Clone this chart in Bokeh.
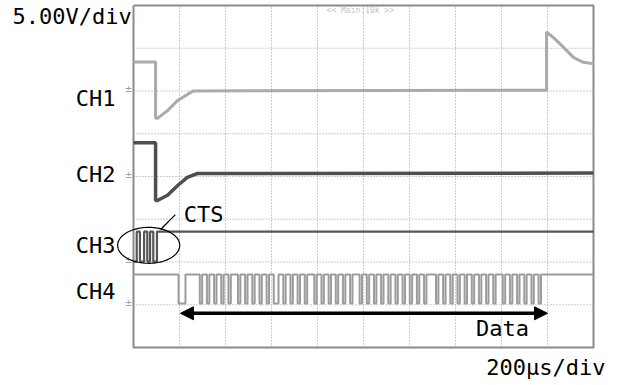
import numpy as np
from bokeh.plotting import figure
from bokeh.models import Range1d, Label, Arrow, NormalHead, PolyAnnotation
from bokeh.embed import file_html
from bokeh.resources import INLINE

# ---- data, in screen divisions (x: 0..10 div of 200us, y: 0..8 div of 5V) ----
x_divs = list(range(0, 11))
y_divs = list(range(0, 9))

ch1_t = [0, 0.48, 0.48, 0.52, 0.74, 0.96, 1.17, 1.30, 8.98, 8.98, 9.13, 9.35, 9.57, 9.78, 10.0]
ch1_v = [6.68, 6.68, 5.36, 5.36, 5.54, 5.78, 5.92, 6.00, 6.02, 7.38, 7.25, 7.02, 6.78, 6.67, 6.64]

ch2_t = [0, 0.48, 0.48, 0.52, 0.74, 0.96, 1.17, 1.39, 10.0]
ch2_v = [4.79, 4.79, 3.44, 3.44, 3.56, 3.79, 3.98, 4.07, 4.08]

ch3_low, ch3_high = 2.01, 2.71
cts_edges = [0.07, 0.14, 0.23, 0.30, 0.36, 0.43, 0.51]   # starts low, toggles at each edge

ch4_low, ch4_high = 1.03, 1.71
ch4_fall = 0.98          # idle high ends
ch4_data_start = 1.13
ch4_data_end = 8.91
ch4_bits = ("111111011011011011011101101101101101100110110110110111011011011011"
            "011011101101101101101101101101101101111011011011011011011011011011"
            "101101101101101101")

ground_levels = [6.0, 4.0, 2.0, 1.0]
channel_names = ["CH1", "CH2", "CH3", "CH4"]
label_levels = [5.82, 4.05, 2.39, 1.31]

# ---- build step traces ----
def toggles(edges, lo, hi, t0, t1, start_level):
    xs, ys = [t0], [start_level]
    lvl = start_level
    for e in edges:
        xs.append(e); ys.append(lvl)
        lvl = hi if lvl == lo else lo
        xs.append(e); ys.append(lvl)
    xs.append(t1); ys.append(lvl)
    return xs, ys

ch3_x, ch3_y = toggles(cts_edges, ch3_low, ch3_high, 0, 10, ch3_low)

bit_w = (ch4_data_end - ch4_data_start) / len(ch4_bits)
ch4_x = [0, ch4_fall, ch4_fall, ch4_data_start]
ch4_y = [ch4_high, ch4_high, ch4_low, ch4_low]
prev = ch4_low
for i, b in enumerate(ch4_bits):
    lvl = ch4_high if b == "1" else ch4_low
    t = ch4_data_start + i * bit_w
    if lvl != prev:
        ch4_x += [t, t]
        ch4_y += [prev, lvl]
    prev = lvl
t = ch4_data_end
if prev != ch4_high:
    ch4_x += [t, t]; ch4_y += [prev, ch4_high]
ch4_x.append(10); ch4_y.append(ch4_high)

# ---- figure: frame covers whole canvas, scope screen drawn in data units ----
W, H = 618, 385
px_x, px_y = 46.0, 42.75          # pixels per division
x0_px, y0_px = 133.0, 347.0       # canvas position of (0 div, 0 div)
p = figure(width=W, height=H, output_backend="svg", toolbar_location=None,
           x_range=Range1d(-x0_px / px_x, (W - x0_px) / px_x),
           y_range=Range1d((y0_px - H) / px_y, y0_px / px_y),
           min_border=0)
p.background_fill_color = "white"
p.border_fill_color = "white"
p.outline_line_color = None
p.xaxis.visible = False
p.yaxis.visible = False
p.xgrid.visible = False
p.ygrid.visible = False

top = 8
# dotted graticule
p.multi_line([[x, x] for x in x_divs[1:-1]], [[0, top] for _ in x_divs[1:-1]],
             line_color="#9c9c9c", line_dash="1 2", line_width=1)
p.multi_line([[0, 10] for _ in y_divs[1:-1]], [[y, y] for y in y_divs[1:-1]],
             line_color="#9c9c9c", line_dash="1 2", line_width=1)
# screen border
p.line([0, 0, 10, 10, 0], [top, 0, 0, top, top], line_color="#8a8a8a", line_width=2)

p.line(ch1_t, ch1_v, line_color="#aaaaaa", line_width=3)
p.line(ch2_t, ch2_v, line_color="#4f4f4f", line_width=3.5)
p.line(ch3_x, ch3_y, line_color="#555555", line_width=2.2)
p.line(ch4_x, ch4_y, line_color="#9c9c9c", line_width=2)

font = "DejaVu Sans Mono"
for name, lv, gl in zip(channel_names, label_levels, ground_levels):
    p.add_layout(Label(x=-0.39, y=lv, text=name, text_align="right", text_baseline="middle",
                       text_font=font, text_font_size="22px", text_color="black"))
    p.add_layout(Label(x=-0.11, y=gl + 0.05, text="±", text_align="center", text_baseline="middle",
                       text_font=font, text_font_size="11px", text_color="#a5a5a5"))

p.add_layout(Label(x=-2.63, y=7.74, text="5.00V/div", text_align="left", text_baseline="middle",
                   text_font=font, text_font_size="22px", text_color="black"))
p.add_layout(Label(x=10.26, y=-0.47, text="200μs/div", text_align="right", text_baseline="middle",
                   text_font=font, text_font_size="22px", text_color="black"))
p.add_layout(Label(x=1.09, y=3.11, text="CTS", text_align="left", text_baseline="middle",
                   text_font=font, text_font_size="22px", text_color="black"))
p.add_layout(Label(x=8.02, y=0.44, text="Data", text_align="center", text_baseline="middle",
                   text_font=font, text_font_size="22px", text_color="black"))
p.add_layout(Label(x=4.93, y=7.88, text="<< Main:10k >>", text_align="center", text_baseline="middle",
                   text_font=font, text_font_size="8px", text_color="#c4c4c4"))

# ellipse around CTS pulses
th = np.linspace(0, 2 * np.pi, 90)
ex = 0.33 + 0.675 * np.cos(th)
ey = 2.39 + 0.42 * np.sin(th)
p.add_layout(PolyAnnotation(xs=list(ex), ys=list(ey), fill_color=None, fill_alpha=0,
                            line_color="black", line_alpha=1.0, line_width=1.2))
p.add_layout(Arrow(start=None, end=None, x_start=0.59, y_start=2.76, x_end=0.91, y_end=3.11,
                   line_color="black", line_width=1.2))

# data arrow
p.add_layout(Arrow(start=NormalHead(size=13, fill_color="black", line_color="black"),
                   end=NormalHead(size=13, fill_color="black", line_color="black"),
                   x_start=1.02, y_start=0.80, x_end=9.0, y_end=0.80,
                   line_color="black", line_width=3.5))

open("out.html", "w").write(file_html(p, INLINE))
